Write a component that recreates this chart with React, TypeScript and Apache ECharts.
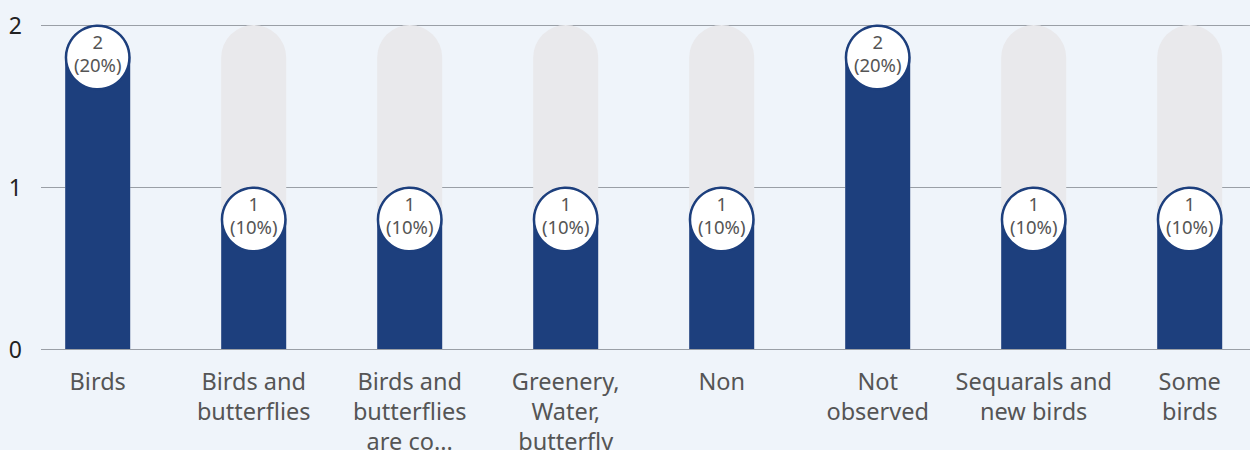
import React, { useEffect, useRef } from "react";
import * as echarts from "echarts";

const categories = [
  "Birds",
  "Birds and\nbutterflies",
  "Birds and\nbutterflies\nare co...",
  "Greenery,\nWater,\nbutterfly",
  "Non",
  "Not\nobserved",
  "Sequarals and\nnew birds",
  "Some\nbirds",
];
const counts = [2, 1, 1, 1, 1, 2, 1, 1];
const percents = [20, 10, 10, 10, 10, 20, 10, 10];
const yMax = 2;
const yTicks = [0, 1, 2];

const NAVY = "#1d3f7d";
const FONT = "'Noto Sans', sans-serif";

export default function App() {
  const ref = useRef<HTMLDivElement>(null);
  useEffect(() => {
    document.body.style.margin = "0";
    if (!ref.current) return;
    const chart = echarts.init(ref.current, null, { renderer: "svg" });
    chart.setOption({
      animation: false,
      backgroundColor: "#eff4fa",
      textStyle: { fontFamily: FONT },
      grid: [
        { left: 41, right: 0, top: 25, bottom: 101, outerBoundsMode: "none", containLabel: false },
        { left: 19.7, right: -17.7, top: 25, bottom: 101, outerBoundsMode: "none", containLabel: false },
      ],
      xAxis: [
        {
          gridIndex: 0,
          type: "value",
          show: false,
          min: 0,
          max: 1,
        },
        {
          gridIndex: 1,
          type: "category",
          data: categories,
          axisLine: { show: false },
          axisTick: { show: false },
          axisLabel: {
            interval: 0,
            color: "#555",
            fontSize: 23.5,
            lineHeight: 30,
            margin: 17,
            fontFamily: FONT,
          },
        },
      ],
      yAxis: [
        {
          gridIndex: 0,
          type: "value",
          min: 0,
          max: yMax,
          interval: 1,
          axisLine: { show: false },
          axisTick: { show: false },
          axisLabel: {
            color: "#222",
            fontSize: 23,
            margin: 19,
            fontFamily: FONT,
            formatter: (v: number) => (yTicks.includes(v) ? String(v) : ""),
          },
          splitLine: { lineStyle: { color: "#9a9fa6", width: 1.2 } },
        },
        {
          gridIndex: 1,
          type: "value",
          min: 0,
          max: yMax,
          interval: 1,
          show: false,
          splitLine: { show: false },
        },
      ],
      series: [
        {
          type: "bar",
          xAxisIndex: 1,
          yAxisIndex: 1,
          data: categories.map(() => yMax),
          barWidth: 65,
          barGap: "-100%",
          itemStyle: { color: "#e9e9ec", borderRadius: [32.5, 32.5, 0, 0] },
          silent: true,
        },
        {
          type: "bar",
          xAxisIndex: 1,
          yAxisIndex: 1,
          data: counts,
          barWidth: 65,
          barGap: "-100%",
          itemStyle: { color: NAVY, borderRadius: [32.5, 32.5, 0, 0] },
        },
        {
          type: "scatter",
          xAxisIndex: 1,
          yAxisIndex: 1,
          data: counts,
          symbol: "circle",
          symbolSize: 63.5,
          symbolOffset: [0, 32.5],
          z: 5,
          itemStyle: { color: "#ffffff", borderColor: NAVY, borderWidth: 2.5, opacity: 1 },
          label: {
            show: true,
            position: "inside",
            offset: [0, -5],
            color: "#555",
            fontSize: 18.5,
            lineHeight: 23,
            fontFamily: FONT,
            formatter: (p: any) => `${counts[p.dataIndex]}\n(${percents[p.dataIndex]}%)`,
          },
        },
      ],
    });
    return () => chart.dispose();
  }, []);
  return <div ref={ref} style={{ width: 1250, height: 450 }} />;
}
